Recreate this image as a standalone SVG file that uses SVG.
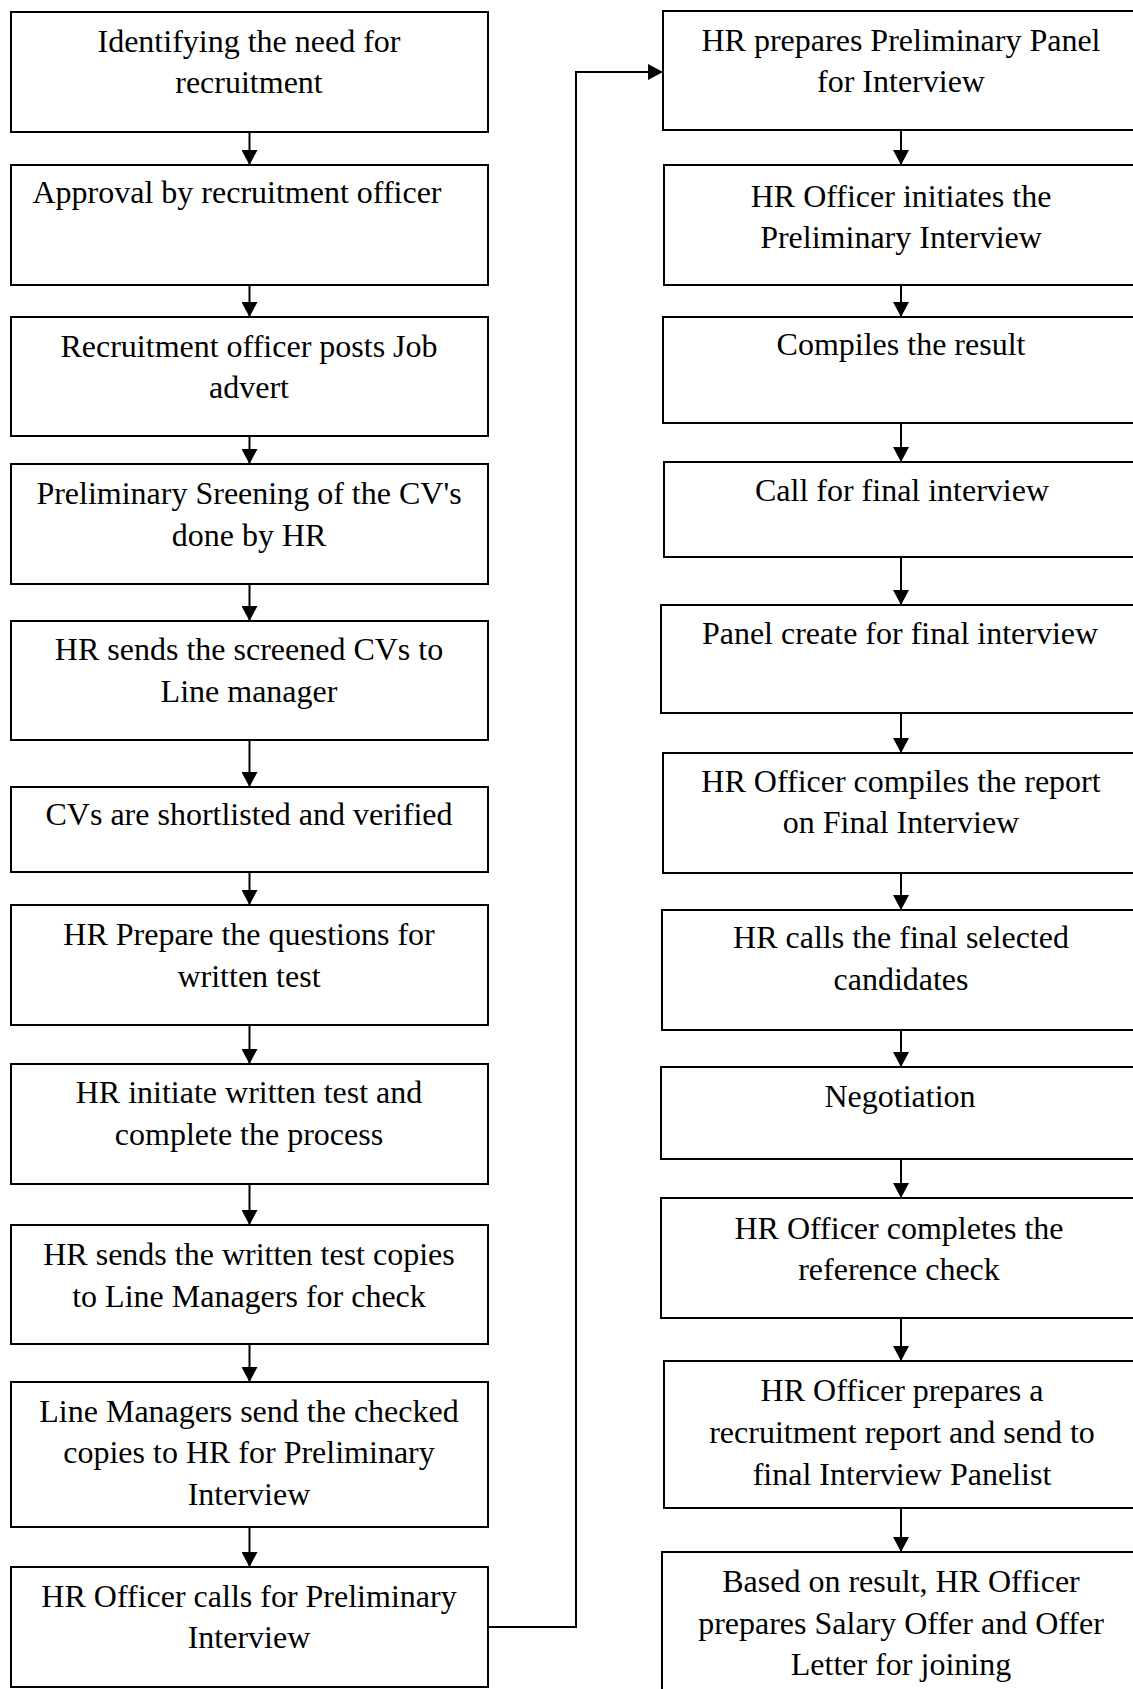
<svg xmlns="http://www.w3.org/2000/svg" width="1133" height="1689" viewBox="0 0 1133 1689">
<style>
.box{fill:#fff;stroke:#000;stroke-width:2}
.t{font-family:"Liberation Serif","Times New Roman",serif;font-size:32px;fill:#000;text-anchor:middle}
.c{fill:none;stroke:#000;stroke-width:2}
</style>
<defs>
<marker id="ah" markerWidth="16" markerHeight="16" refX="15" refY="8" orient="auto" markerUnits="userSpaceOnUse"><path d="M0,0 L15,8 L0,16 Z" fill="#000"/></marker>
</defs>
<rect width="1133" height="1689" fill="#fff"/>
<g id="connectors">
<path class="c" d="M249.5,132 V165" marker-end="url(#ah)"/>
<path class="c" d="M249.5,285 V317" marker-end="url(#ah)"/>
<path class="c" d="M249.5,436 V464" marker-end="url(#ah)"/>
<path class="c" d="M249.5,584 V621" marker-end="url(#ah)"/>
<path class="c" d="M249.5,740 V787" marker-end="url(#ah)"/>
<path class="c" d="M249.5,872 V905" marker-end="url(#ah)"/>
<path class="c" d="M249.5,1025 V1064" marker-end="url(#ah)"/>
<path class="c" d="M249.5,1184 V1225" marker-end="url(#ah)"/>
<path class="c" d="M249.5,1344 V1382" marker-end="url(#ah)"/>
<path class="c" d="M249.5,1527 V1567" marker-end="url(#ah)"/>
<path class="c" d="M488,1627 H576 V72 H663" marker-end="url(#ah)"/>
<path class="c" d="M901,130 V165" marker-end="url(#ah)"/>
<path class="c" d="M901,285 V317" marker-end="url(#ah)"/>
<path class="c" d="M901,423 V462" marker-end="url(#ah)"/>
<path class="c" d="M901,557 V605" marker-end="url(#ah)"/>
<path class="c" d="M901,713 V753" marker-end="url(#ah)"/>
<path class="c" d="M901,873 V910" marker-end="url(#ah)"/>
<path class="c" d="M901,1030 V1067" marker-end="url(#ah)"/>
<path class="c" d="M901,1159 V1198" marker-end="url(#ah)"/>
<path class="c" d="M901,1318 V1361" marker-end="url(#ah)"/>
<path class="c" d="M901,1508 V1552" marker-end="url(#ah)"/>
</g>
<g id="n1"><rect class="box" x="11" y="12" width="477" height="120"/><text class="t" x="249" y="52">Identifying the need for</text><text class="t" x="249" y="93">recruitment</text></g>
<g id="n2"><rect class="box" x="11" y="165" width="477" height="120"/><text class="t" x="237" y="203">Approval by recruitment officer</text></g>
<g id="n3"><rect class="box" x="11" y="317" width="477" height="119"/><text class="t" x="249" y="357">Recruitment officer posts Job</text><text class="t" x="249" y="398">advert</text></g>
<g id="n4"><rect class="box" x="11" y="464" width="477" height="120"/><text class="t" x="249" y="504">Preliminary Sreening of the CV's</text><text class="t" x="249" y="546">done by HR</text></g>
<g id="n5"><rect class="box" x="11" y="621" width="477" height="119"/><text class="t" x="249" y="660">HR sends the screened CVs to</text><text class="t" x="249" y="702">Line manager</text></g>
<g id="n6"><rect class="box" x="11" y="787" width="477" height="85"/><text class="t" x="249" y="825">CVs are shortlisted and verified</text></g>
<g id="n7"><rect class="box" x="11" y="905" width="477" height="120"/><text class="t" x="249" y="945">HR Prepare the questions for</text><text class="t" x="249" y="987">written test</text></g>
<g id="n8"><rect class="box" x="11" y="1064" width="477" height="120"/><text class="t" x="249" y="1103">HR initiate written test and</text><text class="t" x="249" y="1145">complete the process</text></g>
<g id="n9"><rect class="box" x="11" y="1225" width="477" height="119"/><text class="t" x="249" y="1265">HR sends the written test copies</text><text class="t" x="249" y="1307">to Line Managers for check</text></g>
<g id="n10"><rect class="box" x="11" y="1382" width="477" height="145"/><text class="t" x="249" y="1422">Line Managers send the checked</text><text class="t" x="249" y="1463">copies to HR for Preliminary</text><text class="t" x="249" y="1505">Interview</text></g>
<g id="n11"><rect class="box" x="11" y="1567" width="477" height="120"/><text class="t" x="249" y="1607">HR Officer calls for Preliminary</text><text class="t" x="249" y="1648">Interview</text></g>
<g id="n12"><rect class="box" x="663" y="11" width="480" height="119"/><text class="t" x="901" y="51">HR prepares Preliminary Panel</text><text class="t" x="901" y="92">for Interview</text></g>
<g id="n13"><rect class="box" x="664" y="165" width="480" height="120"/><text class="t" x="901" y="207">HR Officer initiates the</text><text class="t" x="901" y="248">Preliminary Interview</text></g>
<g id="n14"><rect class="box" x="663" y="317" width="480" height="106"/><text class="t" x="901" y="355">Compiles the result</text></g>
<g id="n15"><rect class="box" x="664" y="462" width="480" height="95"/><text class="t" x="902" y="501">Call for final interview</text></g>
<g id="n16"><rect class="box" x="661" y="605" width="482" height="108"/><text class="t" x="900" y="644">Panel create for final interview</text></g>
<g id="n17"><rect class="box" x="663" y="753" width="480" height="120"/><text class="t" x="901" y="792">HR Officer compiles the report</text><text class="t" x="901" y="833">on Final Interview</text></g>
<g id="n18"><rect class="box" x="662" y="910" width="481" height="120"/><text class="t" x="901" y="948">HR calls the final selected</text><text class="t" x="901" y="990">candidates</text></g>
<g id="n19"><rect class="box" x="661" y="1067" width="482" height="92"/><text class="t" x="900" y="1107">Negotiation</text></g>
<g id="n20"><rect class="box" x="661" y="1198" width="482" height="120"/><text class="t" x="899" y="1239">HR Officer completes the</text><text class="t" x="899" y="1280">reference check</text></g>
<g id="n21"><rect class="box" x="664" y="1361" width="480" height="147"/><text class="t" x="902" y="1401">HR Officer prepares a</text><text class="t" x="902" y="1443">recruitment report and send to</text><text class="t" x="902" y="1485">final Interview Panelist</text></g>
<g id="n22"><rect class="box" x="662" y="1552" width="481" height="140"/><text class="t" x="901" y="1592">Based on result, HR Officer</text><text class="t" x="901" y="1634">prepares Salary Offer and Offer</text><text class="t" x="901" y="1675">Letter for joining</text></g>
</svg>
